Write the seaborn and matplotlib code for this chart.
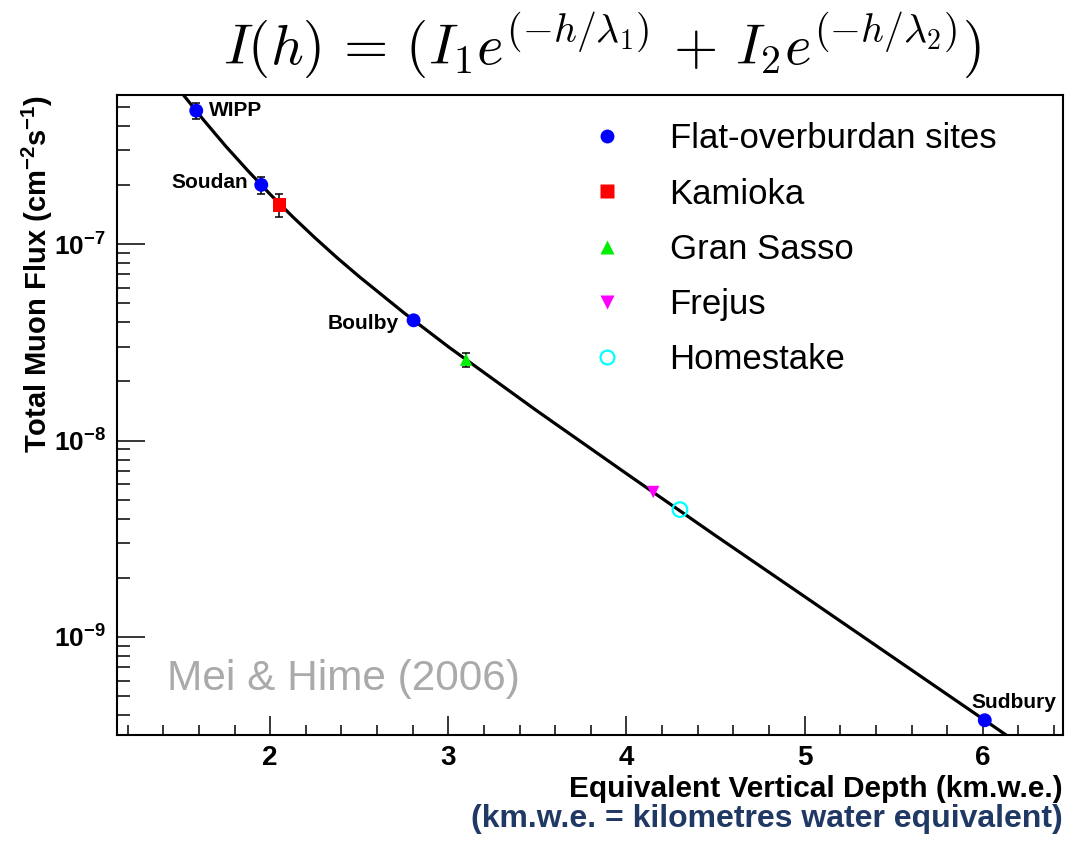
import matplotlib
matplotlib.use("Agg")
import matplotlib.pyplot as plt
import seaborn as sns
import pandas as pd
import numpy as np
from matplotlib.ticker import FixedLocator, MultipleLocator, LogLocator, NullFormatter, FixedFormatter
from matplotlib.lines import Line2D

# ---------------- data ----------------
site_names = ["WIPP", "Soudan", "Kamioka", "Boulby", "Gran Sasso", "Frejus", "Homestake", "Sudbury"]
site_group = ["Flat-overburdan sites", "Flat-overburdan sites", "Kamioka", "Flat-overburdan sites",
              "Gran Sasso", "Frejus", "Homestake", "Flat-overburdan sites"]
depth_kmwe = [1.585, 1.95, 2.052, 2.805, 3.10, 4.15, 4.30, 6.011]
muon_flux = [4.77e-7, 2.00e-7, 1.58e-7, 4.09e-8, 2.58e-8, 5.47e-9, 4.45e-9, 3.77e-10]
flux_err = [0.45e-7, 0.20e-7, 0.21e-7, 0.0, 0.22e-8, 0.0, 0.0, 0.0]
labelled_sites = ["WIPP", "Soudan", "Boulby", "Sudbury"]

fit_depth = [1.45, 1.5, 1.625, 1.75, 1.875, 2.0, 2.125, 2.25, 2.375, 2.5, 2.75, 3.0,
             3.5, 4.0, 4.5, 5.0, 5.5, 6.0, 6.2]
fit_flux = [6.79e-7, 5.93e-7, 4.29e-7, 3.15e-7, 2.36e-7, 1.79e-7, 1.38e-7, 1.078e-7, 8.52e-8,
            6.82e-8, 4.47e-8, 3.00e-8, 1.41e-8, 6.78e-9, 3.28e-9, 1.605e-9, 7.84e-10, 3.83e-10, 2.87e-10]

legend_groups = ["Flat-overburdan sites", "Kamioka", "Gran Sasso", "Frejus", "Homestake"]
x_ticks = [2, 3, 4, 5, 6]
y_ticks = [1e-9, 1e-8, 1e-7]
y_tick_labels = [r"$\mathbf{10^{-9}}$", r"$\mathbf{10^{-8}}$", r"$\mathbf{10^{-7}}$"]

title_formula = r"$I(h)\,=\,(I_1 e^{(-h/\lambda_1)}\,+\,I_2 e^{(-h/\lambda_2)})$"
x_label = "Equivalent Vertical Depth (km.w.e.)"
x_note = "(km.w.e. = kilometres water equivalent)"
y_label = r"Total Muon Flux (cm$^{\mathbf{-2}}$s$^{\mathbf{-1}}$)"
credit = "Mei & Hime (2006)"

# ---------------- style ----------------
sns.set_theme(style="ticks")
plt.rcParams["font.family"] = ["Liberation Sans", "DejaVu Sans"]
plt.rcParams["mathtext.fontset"] = "custom"
plt.rcParams["mathtext.rm"] = "Liberation Sans"
plt.rcParams["mathtext.bf"] = "Liberation Sans:bold"
plt.rcParams["mathtext.it"] = "Liberation Sans:italic"
for key in ["text.color", "axes.labelcolor", "xtick.color", "ytick.color", "axes.edgecolor"]:
    plt.rcParams[key] = "black"

group_style = {
    "Flat-overburdan sites": dict(marker="o", color="#0000ff", face="#0000ff", size=100, leg=1.0),
    "Kamioka": dict(marker="s", color="#ff0000", face="#ff0000", size=90, leg=1.0),
    "Gran Sasso": dict(marker="^", color="#00ee00", face="#00ee00", size=80, leg=1.2),
    "Frejus": dict(marker="v", color="#ff00ff", face="#ff00ff", size=80, leg=1.2),
    "Homestake": dict(marker="o", color="#00ffff", face="none", size=110, leg=0.95),
}

df = pd.DataFrame({"site": site_names, "group": site_group, "depth": depth_kmwe,
                   "flux": muon_flux, "err": flux_err})
fit_df = pd.DataFrame({"depth": fit_depth, "flux": fit_flux})

fig = plt.figure(figsize=(10.87, 8.41), dpi=100)
ax = fig.add_axes([0.1076, 0.126, 0.8703, 0.761])

ax.set_yscale("log")
ax.set_xlim(1.14, 6.45)
ax.set_ylim(3.17e-10, 5.73e-7)

# fit curve
sns.lineplot(data=fit_df, x="depth", y="flux", ax=ax, color="black", linewidth=2.3,
             sort=False, estimator=None, legend=False, zorder=3)

# error bars
err_df = df[df["err"] > 0]
ax.errorbar(err_df["depth"], err_df["flux"], yerr=err_df["err"], fmt="none",
            ecolor="black", elinewidth=1.1, capsize=3, capthick=1.1, zorder=2)

# points
for g in legend_groups:
    st = group_style[g]
    sub = df[df["group"] == g]
    if st["face"] == "none":
        sns.scatterplot(data=sub, x="depth", y="flux", ax=ax, marker=st["marker"], s=st["size"],
                        facecolors="none", edgecolor=st["color"], linewidth=1.6, zorder=4, legend=False)
    else:
        sns.scatterplot(data=sub, x="depth", y="flux", ax=ax, marker=st["marker"], s=st["size"],
                        color=st["color"], edgecolor="none", linewidth=0, zorder=4, legend=False)

# site labels
label_offsets = {"WIPP": (9, 0, "left"), "Soudan": (-9.5, 1.5, "right"),
                 "Boulby": (-11, -2.5, "right"), "Sudbury": (21, 13, "center")}
for name in labelled_sites:
    row = df[df["site"] == name].iloc[0]
    dx, dy, ha = label_offsets[name]
    ax.annotate(name, (row["depth"], row["flux"]), xytext=(dx, dy), textcoords="offset points",
                ha=ha, va="center", fontsize=15, fontweight="bold", color="black", zorder=5)

# legend
handles = []
for g in legend_groups:
    st = group_style[g]
    ms = np.sqrt(st["size"]) * st["leg"]
    if st["face"] == "none":
        h = Line2D([], [], linestyle="none", marker=st["marker"], markersize=ms,
                   markerfacecolor="none", markeredgecolor=st["color"], markeredgewidth=1.6)
    else:
        h = Line2D([], [], linestyle="none", marker=st["marker"], markersize=ms,
                   markerfacecolor=st["color"], markeredgecolor="none")
    handles.append(h)
ax.legend(handles, legend_groups, loc="upper left", bbox_to_anchor=(0.485, 0.979),
          frameon=False, fontsize=25, handlelength=1.0, handletextpad=1.3,
          labelspacing=0.64, borderaxespad=0.0, labelcolor="black")

# axes styling
for sp in ax.spines.values():
    sp.set_color("black")
    sp.set_linewidth(1.5)
    sp.set_visible(True)

ax.xaxis.set_major_locator(FixedLocator(x_ticks))
ax.xaxis.set_major_formatter(FixedFormatter([str(t) for t in x_ticks]))
ax.xaxis.set_minor_locator(MultipleLocator(0.2))
ax.yaxis.set_major_locator(FixedLocator(y_ticks))
ax.yaxis.set_major_formatter(FixedFormatter(y_tick_labels))
ax.yaxis.set_minor_locator(LogLocator(base=10, subs=np.arange(2, 10)))
ax.yaxis.set_minor_formatter(NullFormatter())

ax.tick_params(axis="x", which="major", direction="in", length=14, width=1.1, colors="black",
               labelsize=20, pad=7, top=False, bottom=True)
ax.tick_params(axis="x", which="minor", direction="in", length=7, width=1.1, colors="black",
               top=False, bottom=True)
ax.tick_params(axis="y", which="major", direction="in", length=20, width=1.1, colors="black",
               labelsize=19, pad=8, right=False, left=True)
ax.tick_params(axis="y", which="minor", direction="in", length=9.5, width=1.1, colors="black",
               right=False, left=True)
for lab in ax.get_xticklabels():
    lab.set_fontweight("bold")

ax.set_xlabel(x_label, fontsize=21.5, fontweight="bold", loc="right", color="black")
ax.xaxis.set_label_coords(1.0, -0.0625)
ax.set_ylabel(y_label, fontsize=21, fontweight="bold", loc="top", color="black")
ax.yaxis.set_label_coords(-0.066, 1.0)

fig.text(1063 / 1087, 1 - 827 / 841, x_note, ha="right", va="baseline", fontsize=23,
         fontweight="bold", color="#203864")

ax.text(0.053, 0.07, credit, transform=ax.transAxes, fontsize=30.5, color="#aaaaaa",
        ha="left", va="baseline")

fig.text(0.554, 1 - 45 / 841, title_formula, ha="center", va="center", fontsize=41,
         math_fontfamily="cm", color="black")

fig.savefig("out.png", dpi=100)
